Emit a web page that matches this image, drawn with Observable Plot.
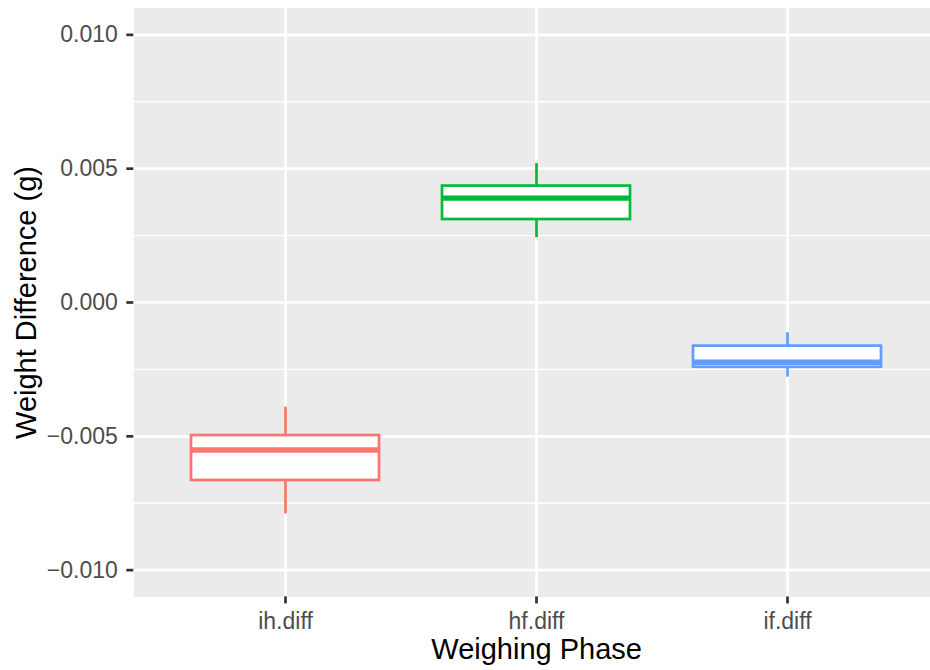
<!DOCTYPE html>
<html>
<head>
<meta charset="utf-8">
<script src="https://cdn.jsdelivr.net/npm/d3@7"></script>
<script src="https://cdn.jsdelivr.net/npm/@observablehq/plot@0.6"></script>
<style>
  html, body { margin: 0; padding: 0; background: #ffffff; }
  #chart { width: 930px; height: 670px; overflow: hidden; }
  g[aria-label="y-axis tick label"], g[aria-label="x-axis tick label"] { fill: #4D4D4D; }
  g[aria-label="y-axis tick"], g[aria-label="x-axis tick"] { stroke: #333333; }
</style>
</head>
<body>
<div id="chart"></div>
<script>
// Data
const categories = ["ih.diff", "hf.diff", "if.diff"];
const lower  = [-0.00790, 0.00242, -0.00279];
const q1     = [-0.00665, 0.00310, -0.00242];
const median = [-0.00551, 0.00390, -0.00223];
const q3     = [-0.00497, 0.00435, -0.00163];
const upper  = [-0.00391, 0.00519, -0.00113];
const colors = ["#F8766D", "#00BA38", "#619CFF"];

const majorTicks = [-0.010, -0.005, 0.000, 0.005, 0.010];
const minorTicks = [-0.0075, -0.0025, 0.0025, 0.0075];

const data = categories.map((c, i) => ({
  cat: c, lower: lower[i], q1: q1[i], median: median[i], q3: q3[i], upper: upper[i]
}));

const font = "'Liberation Sans', Arial, Helvetica, sans-serif";

const chart = Plot.plot({
  width: 930,
  height: 670,
  marginLeft: 133.3,
  marginRight: -9,
  marginTop: 7.6,
  marginBottom: 73.6,
  style: { fontFamily: font, background: "#ffffff", overflow: "hidden" },
  x: { domain: categories, paddingInner: 0.25, paddingOuter: 0.225, axis: null },
  y: { domain: [-0.011, 0.011], axis: null },
  color: { domain: categories, range: colors },
  marks: [
    Plot.frame({ fill: "#EBEBEB", stroke: null }),
    Plot.ruleY(minorTicks, { stroke: "#ffffff", strokeWidth: 1.35 }),
    Plot.ruleY(majorTicks, { stroke: "#ffffff", strokeWidth: 2.7 }),
    Plot.ruleX(categories, { x: d => d, stroke: "#ffffff", strokeWidth: 2.7 }),
    Plot.ruleX(data, { x: "cat", y1: "lower", y2: "upper", stroke: "cat", strokeWidth: 2.7 }),
    Plot.barY(data, { x: "cat", y1: "q1", y2: "q3", fill: "#ffffff", stroke: "cat", strokeWidth: 2.7 }),
    Plot.tickY(data, { x: "cat", y: "median", stroke: "cat", strokeWidth: 5.4 }),
    Plot.axisY({ ticks: majorTicks, tickFormat: d3.format(".3f"), tickSize: 7, tickPadding: 9,
      fontSize: 23, strokeWidth: 2.7, label: null }),
    Plot.axisX({ tickSize: 7, tickPadding: 9, fontSize: 23, strokeWidth: 2.7, label: null }),
    Plot.text(["Weighing Phase"], { frameAnchor: "bottom", lineAnchor: "middle", textAnchor: "middle",
      dy: 53.3, fontSize: 29, fill: "#000000" }),
    Plot.text(["Weight Difference (g)"], { frameAnchor: "left", lineAnchor: "middle", textAnchor: "middle",
      dx: -107, rotate: -90, fontSize: 29, fill: "#000000" })
  ]
});

document.getElementById("chart").appendChild(chart);
</script>
</body>
</html>
